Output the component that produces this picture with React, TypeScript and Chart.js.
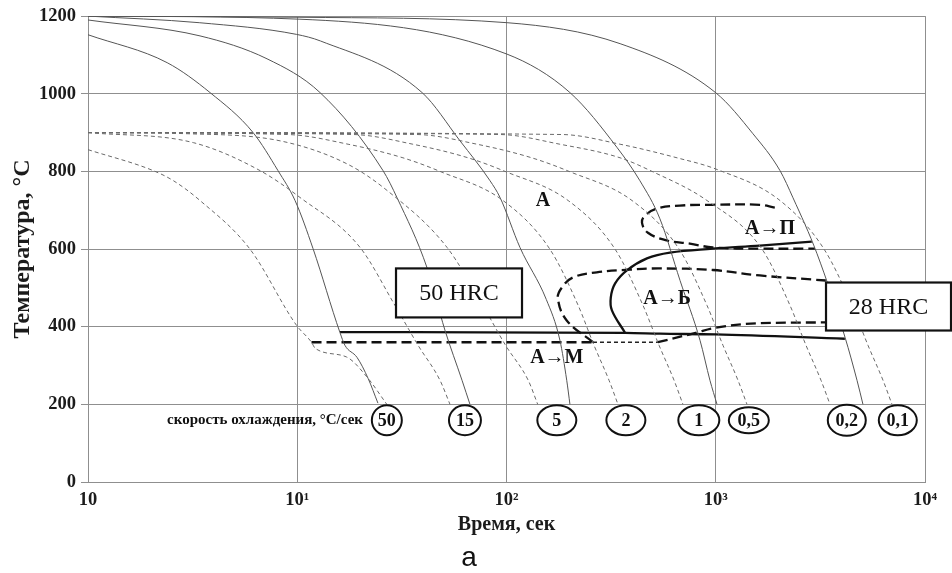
import React, { useEffect, useRef } from "react";
import { Chart, registerables } from "chart.js";

Chart.register(...registerables);

const serif = "'Liberation Serif', 'Times New Roman', serif";

// Time axis (seconds, logarithmic)
const timeTicks = [1, 10, 100, 1000, 10000];
const timeTickLabels = ["10", "10¹", "10²", "10³", "10⁴"];

// Cooling rates, °C/s, with the spot where each caption sits
const coolingRates = ["50", "15", "5", "2", "1", "0,5", "0,2", "0,1"];
const rateLabelTime = [26.8, 63.3, 174, 372, 830, 1439, 4229, 7413];
const rateLabelTemp = 159;

// Cooling curves from the austenitising temperature 1200 °C: [time s, temp °C]
const cool1200_50 = [[1, 1152], [2.39, 1080], [3.83, 1003], [6.15, 900], [8.09, 802], [9.76, 725], [11.9, 601], [16.0, 385], [16.9, 352], [19.3, 321], [21.8, 267], [24.3, 203]];
const cool1200_15 = [[1, 1190], [3.43, 1149], [7.17, 1090], [12.85, 1003], [25.7, 802], [30.0, 732], [41.7, 552], [50.8, 391], [61.3, 262], [66.9, 200]];
const cool1200_5 = [[1, 1200], [3.4, 1183], [9.9, 1153], [12.9, 1136], [39.5, 1003], [59.9, 879], [83.4, 776], [93.1, 733], [116, 604], [155, 470], [180, 365], [194, 262], [201, 200]];
const cool1200_1 = [[1, 1200], [10.3, 1192], [100.6, 1102], [201, 1003], [337, 862], [434, 776], [541, 678], [675, 519], [841, 365], [938, 262], [1014, 200]];
const cool1200_02 = [[1, 1200], [10.3, 1197], [100.6, 1183], [349, 1129], [1003, 1002], [1506, 897], [2028, 802], [2340, 732], [3047, 588], [4146, 373], [4732, 262], [5053, 200]];

// Cooling curves from 900 °C: [time s, temp °C]
const cool900_50 = [[1, 856], [2.05, 802], [2.56, 776], [3.43, 725], [5.94, 600], [9.94, 403], [11.7, 360], [12.2, 344], [17.2, 322], [21.5, 271], [26.8, 200]];
const cool900_15 = [[1, 900], [3.19, 874], [6.64, 802], [10.3, 733], [19.9, 605], [29.3, 455], [37.8, 352], [48.1, 262], [53.7, 200]];
const cool900_5 = [[1, 900], [3.0, 897], [8.4, 878], [17.5, 818], [27, 750], [52, 604], [77, 455], [99, 352], [127, 262], [141, 200]];
const cool900_2 = [[1, 900], [9.0, 895], [17.5, 870], [32.0, 835], [48.1, 800], [96.2, 725], [161, 600], [220, 455], [262, 352], [309, 262], [341, 200]];
const cool900_1 = [[1, 900], [18.5, 895], [35.7, 870], [65.5, 835], [98.4, 800], [197, 725], [330, 600], [449, 455], [536, 352], [632, 262], [697, 200]];
const cool900_05 = [[1, 900], [37.3, 895], [72.3, 870], [132, 835], [199, 800], [398, 725], [668, 600], [908, 455], [1083, 352], [1277, 262], [1410, 200]];
const cool900_02 = [[1, 900], [93.1, 895], [180, 870], [349, 835], [496, 800], [908, 725], [1663, 600], [2263, 455], [2700, 352], [3184, 262], [3516, 200]];
const cool900_01 = [[1, 900], [184, 895], [349, 870], [653, 835], [1014, 805], [2028, 725], [3291, 600], [4478, 455], [5341, 352], [6300, 262], [6956, 200]];

// Transformation boundaries: [time s, temp °C]
const martensiteStart = [[16, 386], [370, 384], [541, 382], [1000, 380], [4140, 369]];
const martensiteStartDashed = [[11.7, 360], [259, 360]];
const martensiteStartDotted = [[259, 360], [529, 360]];
const bainiteEndDashed = [[529, 360], [812, 385], [969, 396], [1625, 409], [3357, 411]];
const pearliteStart = [[1915, 707], [1625, 714], [969, 714], [673, 712], [523, 704], [459, 686], [444, 668], [474, 642], [584, 622], [752, 614], [969, 604], [1625, 601], [2977, 601]];
const bainiteStart = [[259, 360], [194, 416], [176, 473], [184, 501], [208, 527], [270, 540], [389, 547], [541, 550], [969, 546], [1625, 532], [3357, 519]];
const bainiteEnd = [[368, 385], [319, 442], [315, 475], [330, 511], [376, 545], [469, 576], [604, 591], [969, 601], [1625, 609], [2878, 619]];

// Region labels and hardness boxes, anchored in data space
const regionLabels = [
  { text: "А", t: 149.5, T: 725 },
  { text: "А→Б", t: 585, T: 473 },
  { text: "А→М", t: 174, T: 321 },
  { text: "А→П", t: 1816, T: 653 },
];
const hardnessBoxes = [
  { text: "50 HRC", t: 59.3, T: 487, w: 126, h: 49 },
  { text: "28 HRC", t: 6693, T: 452, w: 125, h: 48 },
];
const badgeSizes = [[30, 30], [32, 30], [39, 30], [39, 30], [41, 30], [40, 26], [38, 31], [38, 30]];
const rateCaption = { text: "скорость охлаждения, °C/сек", t: 20.6, T: 159 };

const toPts = (a: number[][]) => a.map(([x, y]) => ({ x, y }));

const thinSolid = { borderColor: "#555555", borderWidth: 1 };
const thinDash = { borderColor: "#6a6a6a", borderWidth: 1, borderDash: [4, 3] };
const thickSolid = { borderColor: "#111111", borderWidth: 2.3 };
const thickDash = { borderColor: "#111111", borderWidth: 2.3, borderDash: [10, 5] };

function line(data: number[][], style: any, smooth: "monotone" | "bezier" = "monotone") {
  return {
    data: toPts(data),
    showLine: true,
    pointRadius: 0,
    fill: false,
    ...style,
    ...(smooth === "monotone" ? { cubicInterpolationMode: "monotone" } : { tension: 0.4 }),
  };
}

const labelsPlugin = {
  id: "cctLabels",
  afterDatasetsDraw(chart: any) {
    const { ctx } = chart;
    const xs = chart.scales.x;
    const ys = chart.scales.y;
    ctx.save();
    ctx.textAlign = "center";
    ctx.textBaseline = "middle";

    // phase-region labels
    ctx.fillStyle = "#111";
    ctx.font = `bold 20px ${serif}`;
    regionLabels.forEach((l) => ctx.fillText(l.text, xs.getPixelForValue(l.t), ys.getPixelForValue(l.T)));

    // hardness boxes
    hardnessBoxes.forEach((b) => {
      const cx = xs.getPixelForValue(b.t);
      const cy = ys.getPixelForValue(b.T);
      ctx.fillStyle = "#fff";
      ctx.fillRect(cx - b.w / 2, cy - b.h / 2, b.w, b.h);
      ctx.lineWidth = 2.2;
      ctx.strokeStyle = "#111";
      ctx.strokeRect(cx - b.w / 2, cy - b.h / 2, b.w, b.h);
      ctx.fillStyle = "#111";
      ctx.font = `24px ${serif}`;
      ctx.fillText(b.text, cx, cy + 1);
    });

    // cooling-rate badges
    coolingRates.forEach((r, i) => {
      const cx = xs.getPixelForValue(rateLabelTime[i]);
      const cy = ys.getPixelForValue(rateLabelTemp);
      const [w, h] = badgeSizes[i];
      ctx.beginPath();
      ctx.ellipse(cx, cy, w / 2, h / 2, 0, 0, Math.PI * 2);
      ctx.fillStyle = "#fff";
      ctx.fill();
      ctx.lineWidth = 2;
      ctx.strokeStyle = "#111";
      ctx.stroke();
      ctx.fillStyle = "#111";
      ctx.font = `bold 18px ${serif}`;
      ctx.fillText(r, cx, cy + 1);
    });

    ctx.textAlign = "right";
    ctx.font = `bold 15px ${serif}`;
    ctx.fillText(rateCaption.text, xs.getPixelForValue(rateCaption.t), ys.getPixelForValue(rateCaption.T));
    ctx.restore();
  },
  afterDraw(chart: any) {
    const { ctx } = chart;
    ctx.save();
    ctx.fillStyle = "#111";
    ctx.font = `28px 'Liberation Sans Narrow', 'Liberation Sans', sans-serif`;
    ctx.textAlign = "center";
    ctx.textBaseline = "middle";
    ctx.fillText("а", 469, 558);
    ctx.restore();
  },
};

export default function App() {
  const ref = useRef<HTMLCanvasElement | null>(null);

  useEffect(() => {
    if (!ref.current) return;
    const datasets = [
      line(cool900_50, thinDash),
      line(cool900_15, thinDash),
      line(cool900_5, thinDash),
      line(cool900_2, thinDash),
      line(cool900_1, thinDash),
      line(cool900_05, thinDash),
      line(cool900_02, thinDash),
      line(cool900_01, thinDash),
      line(cool1200_50, thinSolid),
      line(cool1200_15, thinSolid),
      line(cool1200_5, thinSolid),
      line(cool1200_1, thinSolid),
      line(cool1200_02, thinSolid),
      line(martensiteStart, thickSolid),
      line(martensiteStartDashed, thickDash),
      line(martensiteStartDotted, { borderColor: "#222", borderWidth: 1.3, borderDash: [4, 3] }),
      line(bainiteEndDashed, thickDash),
      line(pearliteStart, thickDash, "bezier"),
      line(bainiteStart, thickDash, "bezier"),
      line(bainiteEnd, thickSolid, "bezier"),
    ];

    const tickFont = { family: serif, size: 18.5, weight: "bold" };

    const chart = new Chart(ref.current, {
      type: "scatter",
      data: { datasets: datasets as any },
      options: {
        animation: false,
        responsive: false,
        devicePixelRatio: 1,
        layout: { padding: { left: 0, right: 27, top: 15, bottom: 34 } },
        plugins: { legend: { display: false }, tooltip: { enabled: false } },
        scales: {
          x: {
            type: "logarithmic",
            min: 1,
            max: 10000,
            afterBuildTicks: (axis: any) => {
              axis.ticks = timeTicks.map((v) => ({ value: v }));
            },
            afterFit: (axis: any) => {
              axis.height = 57;
            },
            ticks: {
              autoSkip: false,
              maxRotation: 0,
              padding: 7,
              color: "#1b1b1b",
              font: tickFont,
              callback: (_v: any, i: number) => timeTickLabels[i],
            },
            grid: { color: "#8f8f8f", lineWidth: 1, drawTicks: false },
            border: { display: true, color: "#8f8f8f", width: 1 },
            title: {
              display: true,
              text: "Время, сек",
              color: "#1b1b1b",
              font: { family: serif, size: 20, weight: "bold" },
              padding: { top: 0, bottom: 2 },
            },
          },
          y: {
            type: "linear",
            min: 0,
            max: 1200,
            afterFit: (axis: any) => {
              axis.width = 88;
            },
            ticks: {
              stepSize: 200,
              padding: 5,
              color: "#1b1b1b",
              font: tickFont,
              callback: (v: any) => String(v),
            },
            grid: { color: "#8f8f8f", lineWidth: 1, tickLength: 7 },
            border: { display: true, color: "#8f8f8f", width: 1 },
            title: {
              display: true,
              text: "Температура, °C",
              color: "#1b1b1b",
              font: { family: serif, size: 24, weight: "bold" },
              padding: { top: 8, bottom: 0 },
            },
          },
        },
      } as any,
      plugins: [labelsPlugin],
    });
    return () => chart.destroy();
  }, []);

  return (
    <div style={{ position: "fixed", left: 0, top: 0, width: 952, height: 573, background: "#fff" }}>
      <canvas ref={ref} width={952} height={573} style={{ width: 952, height: 573, display: "block" }} />
    </div>
  );
}
